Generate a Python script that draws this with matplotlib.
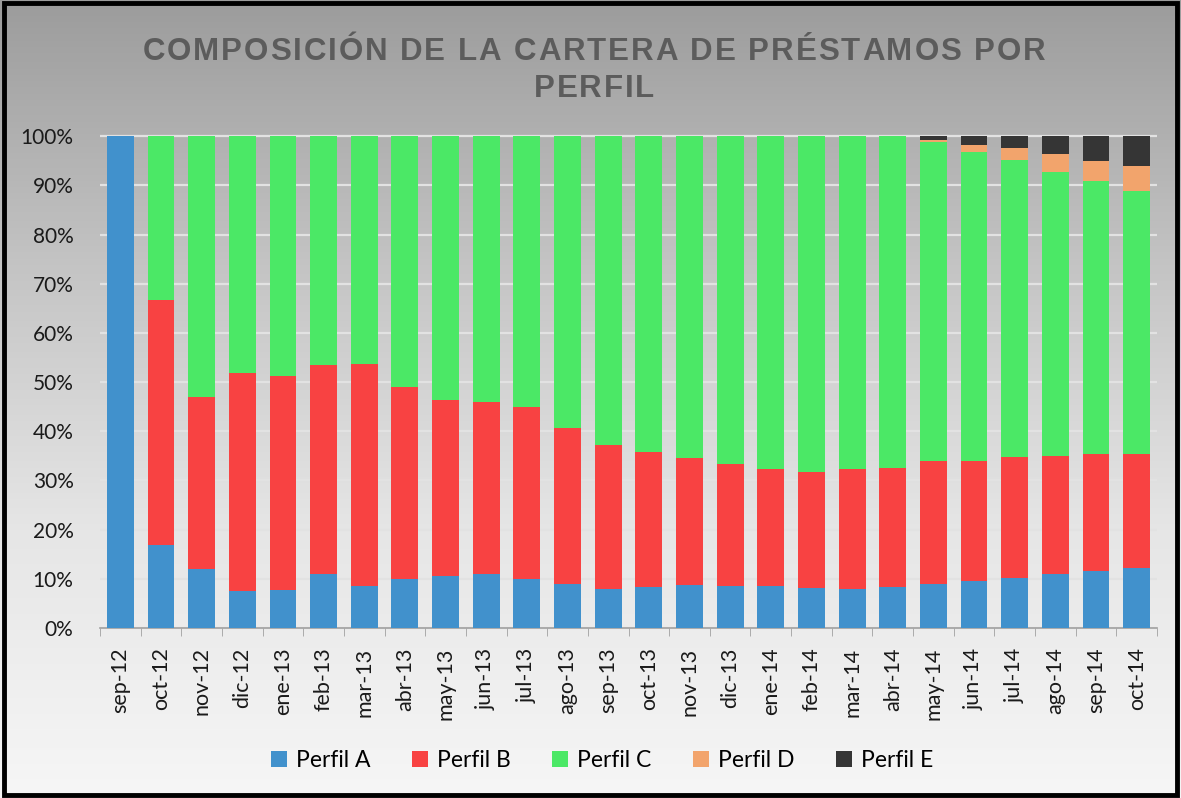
import matplotlib
matplotlib.use("Agg")
import matplotlib.pyplot as plt
import numpy as np
from matplotlib.patches import Rectangle
from matplotlib.colors import LinearSegmentedColormap
from matplotlib.font_manager import FontProperties, findfont, get_font
from matplotlib.ft2font import LoadFlags

months = ["sep-12", "oct-12", "nov-12", "dic-12", "ene-13", "feb-13", "mar-13", "abr-13",
          "may-13", "jun-13", "jul-13", "ago-13", "sep-13", "oct-13", "nov-13", "dic-13",
          "ene-14", "feb-14", "mar-14", "abr-14", "may-14", "jun-14", "jul-14", "ago-14",
          "sep-14", "oct-14"]
perfil_a = [100.0, 16.9, 12.0, 7.5, 7.8, 11.0, 8.5, 10.0, 10.5, 11.0, 10.0, 9.0, 8.0, 8.3,
            8.8, 8.6, 8.5, 8.2, 8.0, 8.3, 9.0, 9.5, 10.2, 11.0, 11.5, 12.2]
perfil_b = [0.0, 49.8, 35.0, 44.3, 43.5, 42.4, 45.2, 39.0, 35.9, 35.0, 35.0, 31.7, 29.3, 27.5,
            25.7, 24.8, 23.8, 23.6, 24.3, 24.3, 24.9, 24.5, 24.6, 24.0, 23.8, 23.1]
perfil_d = [0, 0, 0, 0, 0, 0, 0, 0, 0, 0, 0, 0, 0, 0, 0, 0, 0, 0, 0, 0, 0.4, 1.4, 2.5, 3.6, 4.2, 5.1]
perfil_e = [0, 0, 0, 0, 0, 0, 0, 0, 0, 0, 0, 0, 0, 0, 0, 0, 0, 0, 0, 0, 0.8, 1.8, 2.3, 3.7, 5.0, 6.0]
perfil_c = [max(0.0, 100 - a - b - d - e) for a, b, d, e in zip(perfil_a, perfil_b, perfil_d, perfil_e)]

series = [("Perfil A", perfil_a, "#4191cc"),
          ("Perfil B", perfil_b, "#f84242"),
          ("Perfil C", perfil_c, "#4be866"),
          ("Perfil D", perfil_d, "#f2a46c"),
          ("Perfil E", perfil_e, "#353535")]
title_lines = ["COMPOSICIÓN DE LA CARTERA DE PRÉSTAMOS POR", "PERFIL"]

plt.rcParams['font.family'] = ['Lato', 'DejaVu Sans']

W, H = 1181, 798
DPI = 100
fig = plt.figure(figsize=(W / DPI, H / DPI), dpi=DPI)

# gradient background
bg = fig.add_axes([0, 0, 1, 1], zorder=-10)
grad = np.linspace(0, 1, 256).reshape(-1, 1)
cmap = LinearSegmentedColormap.from_list("bg", ["#9c9c9c", "#c4c4c4", "#e6e6e6", "#f6f6f6"])
bg.imshow(grad, aspect="auto", cmap=cmap, extent=[0, 1, 0, 1], origin="upper")
bg.set_xlim(0, 1); bg.set_ylim(0, 1)
bg.axis("off")
bg.add_patch(Rectangle((0.003, 0.004), 0.994, 0.992, fill=False, edgecolor="black",
                       linewidth=3.5, transform=bg.transAxes))

left, right, top, bottom = 100, 1157, 120, 628
ax = fig.add_axes([left / W, 1 - bottom / H, (right - left) / W, (bottom - top) / H])
ax.patch.set_alpha(0)

x = np.arange(len(months))
base = np.zeros(len(months))
handles = []
for name, vals, col in series:
    v = np.array(vals)
    h = ax.bar(x, v, bottom=base, width=0.66, color=col, label=name, zorder=3)
    handles.append(h)
    base += v

ax.set_xlim(-0.5, len(months) - 0.5)
ax.set_ylim(0, 103.3)
ax.set_yticks(np.arange(0, 101, 10))
ax.set_yticklabels([f"{t}%" for t in range(0, 101, 10)], fontsize=15, color="#1a1a1a")
ax.yaxis.grid(True, color="#e2e2e2", linewidth=1.6, zorder=0)
ax.tick_params(axis="y", length=0, pad=19)

ax.set_xticks(x)
ax.set_xticklabels(months, rotation=90, fontsize=15.5, color="#1a1a1a")
ax.set_xticks(np.arange(-0.5, len(months)), minor=True)
ax.tick_params(axis="x", which="major", length=0, pad=14)
ax.tick_params(axis="x", which="minor", length=6, color="#a0a0a0")

for s in ["top", "right", "left"]:
    ax.spines[s].set_visible(False)
ax.spines["bottom"].set_color("#a0a0a0")
ax.spines["bottom"].set_linewidth(1.2)

# letter-spaced title
tsize = 22.5
fp = FontProperties(family="Liberation Sans", weight="bold", size=tsize)
font = get_font(findfont(fp))
font.set_size(tsize, DPI)

def advances(s):
    out = []
    for ch in s:
        g = font.load_char(ord(ch), flags=LoadFlags.NO_HINTING)
        out.append(g.linearHoriAdvance / 65536.0)
    return out

spacing = 1.9  # px between letters
baselines = [60, 97]
for line, yb in zip(title_lines, baselines):
    adv = advances(line)
    total = sum(adv) + spacing * (len(line) - 1)
    xpos = 594 - total / 2
    for ch, a in zip(line, adv):
        fig.text(xpos / W, 1 - yb / H, ch, ha="left", va="baseline", fontproperties=fp,
                 color="#5c5c5c")
        xpos += a + spacing

fig.legend(handles=handles, loc="center", bbox_to_anchor=(602 / W, 0.047), ncol=5, frameon=False,
           fontsize=16.5, handlelength=0.7, handleheight=0.7, handletextpad=0.4, columnspacing=1.8)

fig.savefig("out.png", dpi=DPI)
